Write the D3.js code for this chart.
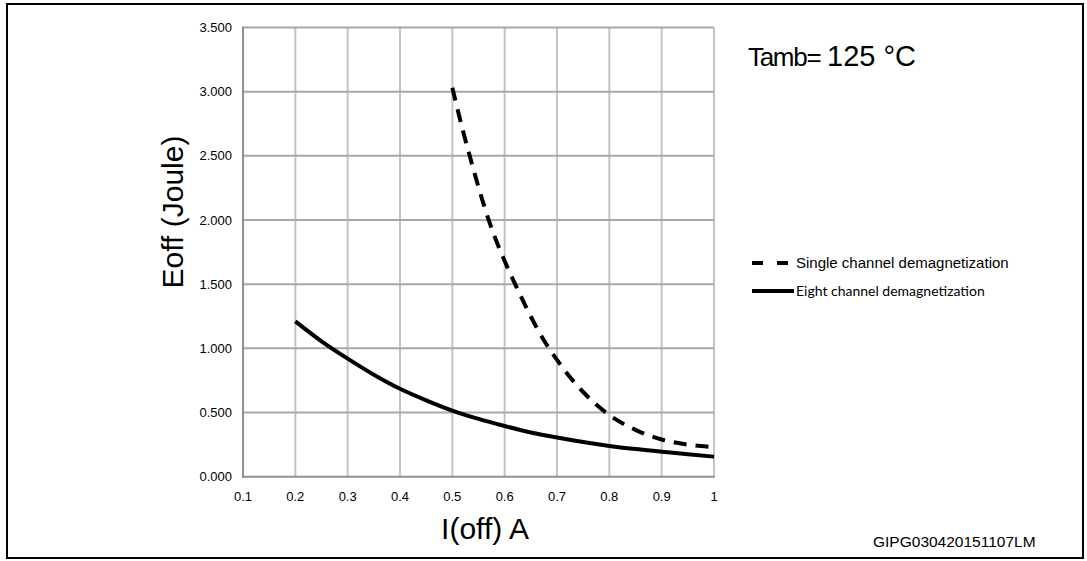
<!DOCTYPE html>
<html>
<head>
<meta charset="utf-8">
<script src="https://cdn.jsdelivr.net/npm/d3@7/dist/d3.min.js"></script>
<style>
  html, body { margin: 0; padding: 0; background: #fff; }
  svg { display: block; }
  text { font-family: "Liberation Sans", Arial, sans-serif; fill: #000; }
</style>
</head>
<body>
<svg id="chart" width="1087" height="561"></svg>
<script>
// ---- data ----
const xTickValues = [0.1, 0.2, 0.3, 0.4, 0.5, 0.6, 0.7, 0.8, 0.9, 1.0];
const xTickLabels = ["0.1", "0.2", "0.3", "0.4", "0.5", "0.6", "0.7", "0.8", "0.9", "1"];
const yTickValues = [0, 0.5, 1.0, 1.5, 2.0, 2.5, 3.0, 3.5];
const yTickLabels = ["0.000", "0.500", "1.000", "1.500", "2.000", "2.500", "3.000", "3.500"];

const singleX = [0.50, 0.52, 0.54, 0.56, 0.58, 0.60, 0.62, 0.64, 0.66, 0.68, 0.70, 0.72, 0.75, 0.80, 0.85, 0.90, 0.95, 0.99];
const singleY = [3.03, 2.70, 2.40, 2.12, 1.88, 1.68, 1.50, 1.33, 1.17, 1.03, 0.91, 0.80, 0.66, 0.48, 0.365, 0.29, 0.25, 0.234];

const eightX = [0.20, 0.25, 0.30, 0.35, 0.40, 0.45, 0.50, 0.55, 0.60, 0.65, 0.70, 0.75, 0.80, 0.85, 0.90, 0.95, 1.00];
const eightY = [1.21, 1.055, 0.92, 0.795, 0.685, 0.595, 0.515, 0.45, 0.395, 0.345, 0.305, 0.27, 0.24, 0.215, 0.195, 0.175, 0.156];

const seriesNames = ["Single channel demagnetization", "Eight channel demagnetization"];
const titleA = "Tamb=";
const titleB = "125 °C";
const yLabel = "Eoff (Joule)";
const xLabel = "I(off) A";
const codeLabel = "GIPG030420151107LM";

// ---- layout ----
const svg = d3.select("#chart");
const x = d3.scaleLinear().domain([0.1, 1.0]).range([243, 714]);
const y = d3.scaleLinear().domain([0, 3.5]).range([476.7, 27.5]);

// outer frame
svg.append("rect")
  .attr("x", 7).attr("y", 4).attr("width", 1076).attr("height", 554)
  .attr("fill", "none").attr("stroke", "#000").attr("stroke-width", 2);

// vertical grid
svg.append("g").selectAll("line").data(xTickValues.slice(1)).join("line")
  .attr("x1", d => x(d)).attr("x2", d => x(d))
  .attr("y1", y(3.5)).attr("y2", y(0))
  .attr("stroke", "#c4c4c4").attr("stroke-width", 2);

// horizontal grid
svg.append("g").selectAll("line").data(yTickValues.slice(1)).join("line")
  .attr("x1", x(0.1)).attr("x2", x(1.0))
  .attr("y1", d => y(d)).attr("y2", d => y(d))
  .attr("stroke", "#a8a8a8").attr("stroke-width", 2);

// axes lines
svg.append("line").attr("x1", x(0.1)).attr("x2", x(0.1)).attr("y1", y(3.5) - 1).attr("y2", y(0) + 1)
  .attr("stroke", "#909090").attr("stroke-width", 2);
svg.append("line").attr("x1", x(0.1) - 1).attr("x2", x(1.0) + 1).attr("y1", y(0)).attr("y2", y(0))
  .attr("stroke", "#909090").attr("stroke-width", 2);

// y tick labels
svg.append("g").selectAll("text").data(yTickValues).join("text")
  .attr("x", x(0.1) - 11).attr("y", d => y(d))
  .attr("dy", "0.35em")
  .attr("text-anchor", "end").attr("font-size", 13)
  .text((d, i) => yTickLabels[i]);

// x tick labels
svg.append("g").selectAll("text").data(xTickValues).join("text")
  .attr("x", d => x(d)).attr("y", 501)
  .attr("text-anchor", "middle").attr("font-size", 13)
  .text((d, i) => xTickLabels[i]);

// curves
const line = d3.line().x(d => x(d[0])).y(d => y(d[1])).curve(d3.curveMonotoneX);
const singleData = singleX.map((v, i) => [v, singleY[i]]);
const eightData = eightX.map((v, i) => [v, eightY[i]]);

svg.append("path").datum(eightData).attr("d", line)
  .attr("fill", "none").attr("stroke", "#000").attr("stroke-width", 4);
svg.append("path").datum(singleData).attr("d", line)
  .attr("fill", "none").attr("stroke", "#000").attr("stroke-width", 4)
  .attr("stroke-dasharray", "13,9");

// title
const t = svg.append("text").attr("x", 748).attr("y", 66);
t.append("tspan").attr("font-size", 26).attr("letter-spacing", -1.3).text(titleA);
t.append("tspan").attr("x", 827).attr("font-size", 29).text(titleB);

// legend
svg.append("line").attr("x1", 752).attr("x2", 788).attr("y1", 263).attr("y2", 263)
  .attr("stroke", "#000").attr("stroke-width", 4).attr("stroke-dasharray", "11,14");
svg.append("text").attr("x", 796).attr("y", 268).attr("font-size", 15).text(seriesNames[0]);
svg.append("line").attr("x1", 752).attr("x2", 794).attr("y1", 291).attr("y2", 291)
  .attr("stroke", "#000").attr("stroke-width", 4);
svg.append("text").attr("x", 796).attr("y", 296).attr("font-size", 14)
  .style("font-family", "Lato, 'Open Sans', sans-serif").text(seriesNames[1]);

// axis titles
svg.append("text").attr("transform", "translate(183,212) rotate(-90)")
  .attr("text-anchor", "middle").attr("font-size", 30).text(yLabel);
svg.append("text").attr("x", 485).attr("y", 539)
  .attr("text-anchor", "middle").attr("font-size", 30).text(xLabel);

// code label
svg.append("text").attr("x", 873).attr("y", 547).attr("font-size", 15.5).text(codeLabel);
</script>
</body>
</html>
